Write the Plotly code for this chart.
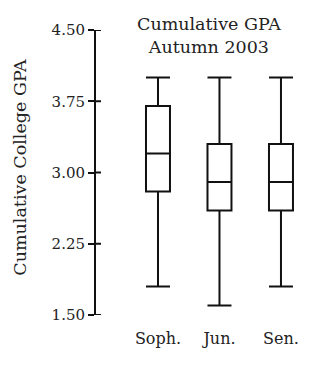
import plotly.graph_objects as go

# Cumulative GPA by class standing, Autumn 2003
classes = ["Soph.", "Jun.", "Sen."]
gpa_min = [1.8, 1.6, 1.8]
gpa_q1 = [2.8, 2.6, 2.6]
gpa_median = [3.2, 2.9, 2.9]
gpa_q3 = [3.7, 3.3, 3.3]
gpa_max = [4.0, 4.0, 4.0]
y_ticks = [1.50, 2.25, 3.00, 3.75, 4.50]

FONT = "DejaVu Serif"
INK = "#111111"
TEXT = "#222222"
PLOT_W = 214  # plot-area width in px (325 - 96 - 15)

fig = go.Figure()
fig.add_trace(go.Box(
    x=classes,
    q1=gpa_q1, median=gpa_median, q3=gpa_q3,
    lowerfence=gpa_min, upperfence=gpa_max,
    width=0.39, whiskerwidth=1,
    fillcolor="white",
    line=dict(color=INK, width=2),
    boxpoints=False, showlegend=False, hoverinfo="skip",
))

# inner half of each y tick, so the ticks cross the axis line
inner_ticks = [
    dict(type="line", xref="paper", yref="y", x0=0, x1=5 / PLOT_W, y0=v, y1=v,
         line=dict(color=INK, width=2))
    for v in y_ticks
]

fig.update_layout(
    width=325, height=369,
    margin=dict(l=96, r=15, t=30, b=54),
    paper_bgcolor="white", plot_bgcolor="white",
    font=dict(family=FONT, size=15, color=TEXT),
    xaxis=dict(
        type="category", categoryorder="array", categoryarray=classes,
        range=[-1.008, 2.472],
        showline=False, showgrid=False, zeroline=False, ticks="",
        ticklabelstandoff=12,
        tickfont=dict(family=FONT, size=16),
    ),
    yaxis=dict(
        range=[1.5, 4.5], tickvals=y_ticks,
        ticktext=[f"{v:.2f}" for v in y_ticks],
        showline=True, linecolor=INK, linewidth=2,
        ticks="outside", ticklen=6, tickwidth=2, tickcolor=INK,
        showgrid=False, zeroline=False,
        tickfont=dict(family=FONT, size=15),
    ),
    shapes=inner_ticks,
    annotations=[
        dict(text="Cumulative GPA<br>Autumn 2003", xref="paper", yref="paper",
             x=0.528, y=0.982, xanchor="center", yanchor="middle",
             showarrow=False, font=dict(family=FONT, size=17.5, color=TEXT)),
        dict(text="Cumulative College GPA", xref="paper", yref="paper",
             x=-0.355, y=0.517, xanchor="center", yanchor="middle",
             textangle=-90, showarrow=False,
             font=dict(family=FONT, size=17.5, color=TEXT)),
    ],
)

fig.write_html("out.html")
